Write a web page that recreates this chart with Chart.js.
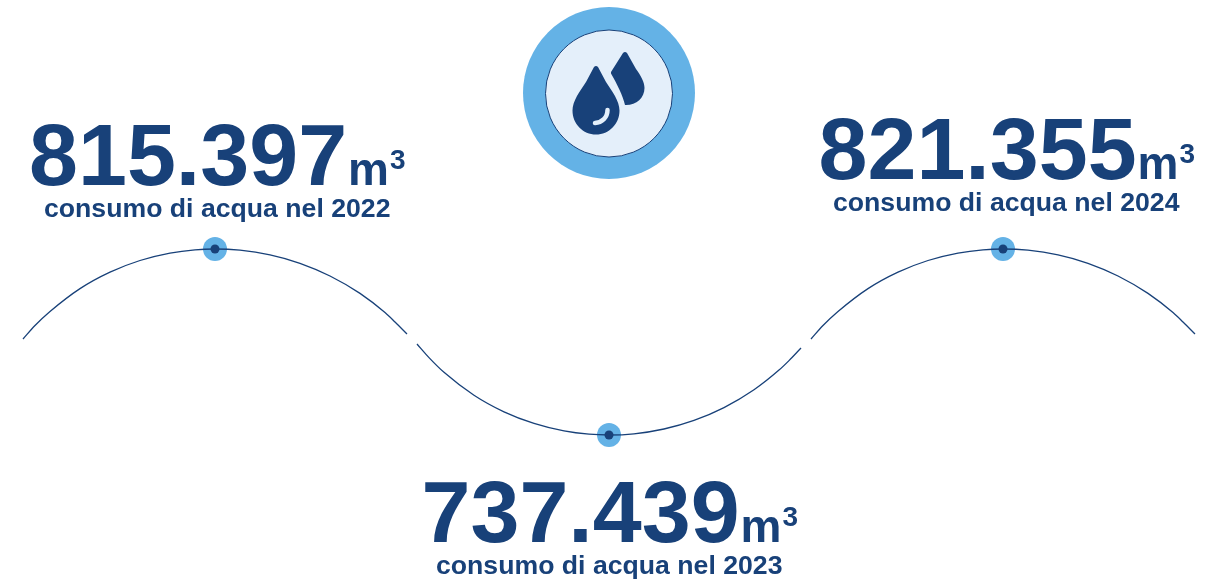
<!DOCTYPE html>
<html>
<head>
    <title>Consumo di acqua</title>
    <script src="https://cdn.jsdelivr.net/npm/chart.js"></script>
    <style>
        html, body { margin: 0; padding: 0; background: #ffffff; }
        canvas { display: block; }
    </style>
</head>
<body>
    <canvas id="myChart" width="1217" height="580"></canvas>
    <script>
        // Values shown in the picture
        var years = [2022, 2023, 2024];
        var consumption = [815397, 737439, 821355];

        // Where the markers sit on the wave (hidden axes)
        var markerX = [215, 609, 1003];
        var markerY = [249, 435, 249];

        // The three arcs of the wave
        var arc1X = [23, 35, 50, 80, 110, 140, 170, 195, 215, 240, 270, 300, 330, 360, 385, 395, 407];
        var arc1Y = [339, 325.5, 311.5, 288.6, 272.1, 260.5, 253.1, 249.8, 249, 250.2, 254.9, 263.3, 276, 293.4, 312.6, 322, 334];
        var arc2X = [417, 429, 444, 474, 504, 534, 564, 589, 609, 634, 664, 694, 724, 754, 779, 789, 801];
        var arc2Y = [344, 357.6, 372.3, 395.2, 411.8, 423.4, 430.9, 434.2, 435, 433.8, 429, 420.4, 407.6, 389.8, 370.1, 360.6, 348];
        var arc3X = [811, 823, 838, 868, 898, 928, 958, 983, 1003, 1028, 1058, 1088, 1118, 1148, 1173, 1183, 1195];
        var arc3Y = [339, 325.5, 311.5, 288.6, 272.1, 260.5, 253.1, 249.8, 249, 250.2, 254.9, 263.3, 276, 293.4, 312.6, 322, 334];

        // Badge at the top
        var badgeX = [609];
        var badgeY = [93];
        var badgeInnerY = [93.5];

        var darkBlue = '#184179';
        var lightBlue = '#64B2E6';
        var paleBlue = '#E4EFFA';

        function toPoints(xs, ys) {
            return xs.map(function (x, i) { return { x: x, y: ys[i] }; });
        }

        function arcDataset(xs, ys) {
            return {
                type: 'line',
                data: toPoints(xs, ys),
                borderColor: darkBlue,
                borderWidth: 1.3,
                pointRadius: 0,
                cubicInterpolationMode: 'monotone',
                clip: false,
                order: 2
            };
        }

        function pointDataset(xs, ys, radius, fill, border, borderWidth, order) {
            return {
                type: 'scatter',
                data: toPoints(xs, ys),
                pointRadius: radius,
                backgroundColor: fill,
                borderColor: border,
                borderWidth: borderWidth,
                clip: false,
                order: order
            };
        }

        function formatNumber(v) {
            return String(v).replace(/\B(?=(\d{3})+$)/g, '.');
        }

        // Text block layout: left of number, number baseline, left of caption, caption baseline
        var labelLayout = [
            { numLeft: 29, numBase: 185, capLeft: 44, capBase: 217 },
            { numLeft: 421.5, numBase: 542, capLeft: 436, capBase: 574 },
            { numLeft: 818.5, numBase: 179, capLeft: 833, capBase: 211 }
        ];

        var labelsPlugin = {
            id: 'labels',
            afterDatasetsDraw: function (chart) {
                var c = chart.ctx;
                c.save();
                c.fillStyle = darkBlue;
                c.textAlign = 'left';
                c.textBaseline = 'alphabetic';
                years.forEach(function (year, i) {
                    var box = labelLayout[i];
                    var num = formatNumber(consumption[i]);
                    c.font = 'bold 88px "Liberation Sans"';
                    c.fillText(num, box.numLeft, box.numBase);
                    var right = box.numLeft + c.measureText(num).width;
                    c.font = 'bold 46px "Liberation Sans"';
                    c.fillText('m', right + 1, box.numBase);
                    var mRight = right + 1 + c.measureText('m').width;
                    c.font = 'bold 28px "Liberation Sans"';
                    c.fillText('3', mRight + 1, box.numBase - 16);
                    c.font = 'bold 26.65px "Liberation Sans"';
                    c.fillText('consumo di acqua nel ' + year, box.capLeft, box.capBase);
                });
                c.restore();
            }
        };

        // Two water drops inside the badge
        var bigDrop = new Path2D('M594 67 Q596 65 598 67 L606 82 C612 91 619.5 101 619.5 110.5 C619.5 124 609 134.5 596 134.5 C583 134.5 572.5 124 572.5 110.5 C572.5 101 580 91 586 82 Z');
        var smallDrop = new Path2D('M623 53 Q625 51 627 53 L636 69 C641 76 644.5 82 644.5 88 C644.5 98 636 105.5 625 105 C623 96 617 84 611 73.5 L611 72 L623 53 Z');
        var shine = new Path2D('M607.5 110 C607.5 117.5 602 122.5 595 123');

        var dropsPlugin = {
            id: 'drops',
            afterDatasetsDraw: function (chart) {
                var c = chart.ctx;
                c.save();
                c.fillStyle = darkBlue;
                c.fill(bigDrop);
                c.fill(smallDrop);
                c.strokeStyle = paleBlue;
                c.lineWidth = 4.5;
                c.lineCap = 'round';
                c.stroke(shine);
                c.restore();
            }
        };

        var ctx = document.getElementById('myChart').getContext('2d');
        var myChart = new Chart(ctx, {
            data: {
                datasets: [
                    pointDataset(badgeX, badgeY, 86, lightBlue, lightBlue, 0, 5),
                    pointDataset(badgeX, badgeInnerY, 63.5, paleBlue, darkBlue, 1, 4),
                    pointDataset(markerX, markerY, 12, lightBlue, lightBlue, 0, 3),
                    arcDataset(arc1X, arc1Y),
                    arcDataset(arc2X, arc2Y),
                    arcDataset(arc3X, arc3Y),
                    pointDataset(markerX, markerY, 4.5, darkBlue, darkBlue, 0, 1)
                ]
            },
            options: {
                responsive: false,
                animation: false,
                layout: { padding: 0, autoPadding: false },
                plugins: { legend: { display: false }, tooltip: { enabled: false } },
                scales: {
                    x: { type: 'linear', display: false, min: 0, max: 1217 },
                    y: { type: 'linear', display: false, min: 0, max: 580, reverse: true }
                }
            },
            plugins: [dropsPlugin, labelsPlugin]
        });
    </script>
</body>
</html>
